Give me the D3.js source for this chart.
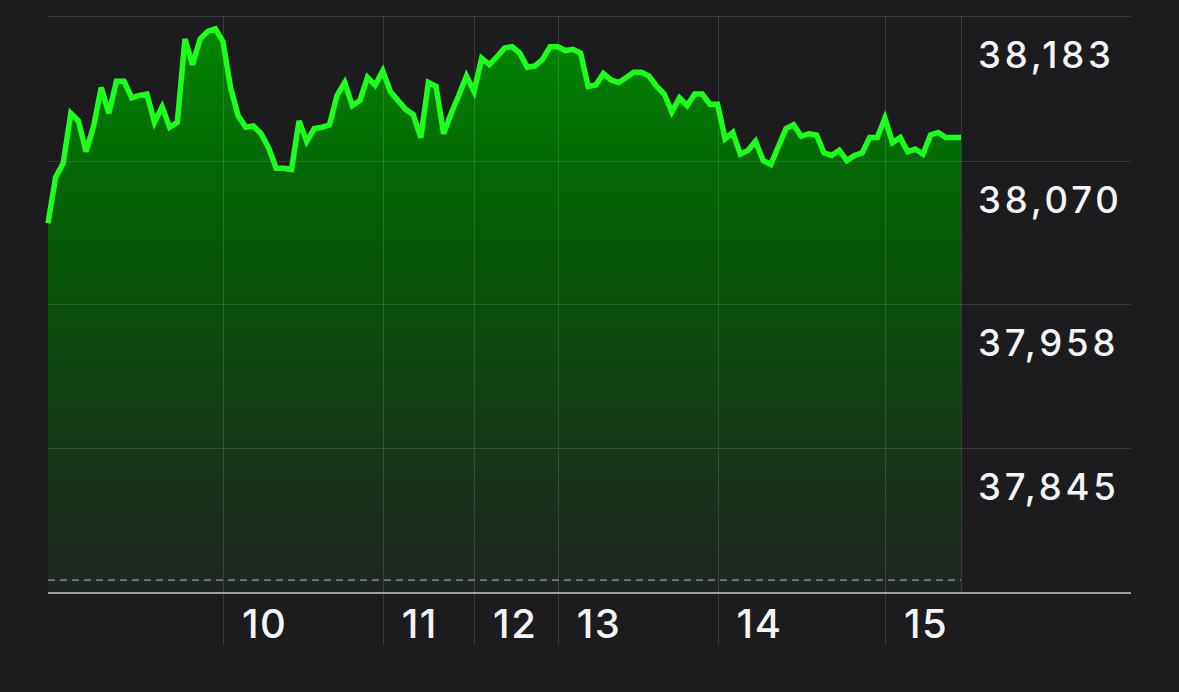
<!DOCTYPE html>
<html>
<head>
<meta charset="utf-8">
<script src="https://cdn.jsdelivr.net/npm/d3@7"></script>
<style>
  html, body { margin: 0; padding: 0; background: #1c1c1e; }
  svg { display: block; }
</style>
</head>
<body>
<div id="chart"></div>
<script>
// ---- data ----
const prices = [
  38021, 38057, 38068, 38107, 38101, 38077, 38097, 38127, 38107, 38132,
  38132, 38119, 38121, 38122, 38100, 38112, 38096, 38100, 38165, 38145,
  38165, 38171, 38173, 38163, 38127, 38105, 38096, 38097, 38091, 38080,
  38064, 38064, 38063, 38101, 38085, 38095, 38096, 38098, 38121, 38131,
  38113, 38117, 38135, 38129, 38140, 38124, 38117, 38110, 38106, 38088,
  38131, 38128, 38091, 38107, 38121, 38136, 38124, 38150, 38145, 38151,
  38158, 38159, 38154, 38143, 38144, 38149, 38159, 38159, 38156, 38157,
  38154, 38128, 38129, 38138, 38133, 38131, 38135, 38139, 38139, 38136,
  38128, 38122, 38108, 38119, 38113, 38122, 38122, 38114, 38114, 38087,
  38092, 38075, 38078, 38085, 38070, 38067, 38081, 38095, 38098, 38089,
  38091, 38090, 38076, 38074, 38078, 38070, 38074, 38076, 38088, 38088,
  38103, 38084, 38088, 38077, 38079, 38075, 38090, 38092, 38088, 38088,
  38088
];
const dayLabels = ["10", "11", "12", "13", "14", "15"];
const dayStartIndex = [23, 44, 56, 67, 88, 110];
const yTickValues = [38183, 38070, 37958, 37845];
const yTickLabels = ["38,183", "38,070", "37,958", "37,845"];
const previousClose = 37742;
const yMin = 37732;
const totalSlots = 120;

// ---- layout ----
const W = 1179, H = 692;
const mLeft = 48, plotRight = 961, gridRight = 1131;
const mTop = 16, mBottom = 593;

const svg = d3.select("#chart").append("svg")
  .attr("width", W).attr("height", H)
  .style("background", "#1c1c1e");

const x = d3.scaleLinear().domain([0, totalSlots]).range([mLeft, plotRight]);
const y = d3.scaleLinear().domain([yMin, yTickValues[0]]).range([mBottom, mTop]);

// gradient
const defs = svg.append("defs");
const grad = defs.append("linearGradient")
  .attr("id", "fillGrad")
  .attr("gradientUnits", "userSpaceOnUse")
  .attr("x1", 0).attr("x2", 0)
  .attr("y1", mTop).attr("y2", mBottom);
grad.append("stop").attr("offset", 0).attr("stop-color", "#008a00").attr("stop-opacity", 1);
grad.append("stop").attr("offset", 0.45).attr("stop-color", "#006600").attr("stop-opacity", 0.75);
grad.append("stop").attr("offset", 1).attr("stop-color", "#1f2a22").attr("stop-opacity", 0.6);

// area
const area = d3.area()
  .x((d, i) => x(i))
  .y0(mBottom)
  .y1(d => y(d));
svg.append("path")
  .datum(prices)
  .attr("d", area)
  .attr("fill", "url(#fillGrad)");

// horizontal grid lines
svg.append("g")
  .selectAll("line")
  .data(yTickValues)
  .join("line")
  .attr("x1", mLeft).attr("x2", gridRight)
  .attr("y1", d => Math.round(y(d)) + 0.5).attr("y2", d => Math.round(y(d)) + 0.5)
  .attr("stroke", "#ffffff").attr("stroke-opacity", 0.13).attr("stroke-width", 1);

// vertical day grid lines
svg.append("g")
  .selectAll("line")
  .data(dayStartIndex)
  .join("line")
  .attr("x1", d => Math.round(x(d)) + 0.5).attr("x2", d => Math.round(x(d)) + 0.5)
  .attr("y1", mTop).attr("y2", 645)
  .attr("stroke", "#ffffff").attr("stroke-opacity", 0.13).attr("stroke-width", 1);

// end-of-plot vertical line
svg.append("line")
  .attr("x1", x(totalSlots) + 0.5).attr("x2", x(totalSlots) + 0.5)
  .attr("y1", mTop).attr("y2", mBottom)
  .attr("stroke", "#ffffff").attr("stroke-opacity", 0.13).attr("stroke-width", 1);

// previous close dashed line
svg.append("line")
  .attr("x1", mLeft).attr("x2", plotRight)
  .attr("y1", y(previousClose)).attr("y2", y(previousClose))
  .attr("stroke", "#9a9a9e").attr("stroke-width", 1.3)
  .attr("stroke-dasharray", "7,5");

// bottom axis line
svg.append("line")
  .attr("x1", mLeft).attr("x2", gridRight)
  .attr("y1", mBottom).attr("y2", mBottom)
  .attr("stroke", "#a0a0a4").attr("stroke-width", 2);

// price line
const line = d3.line()
  .x((d, i) => x(i))
  .y(d => y(d));
svg.append("path")
  .datum(prices)
  .attr("d", line)
  .attr("fill", "none")
  .attr("stroke", "#1eff1e")
  .attr("stroke-width", 5.5)
  .attr("stroke-linejoin", "miter")
  .attr("stroke-miterlimit", 3);

// y labels
svg.append("g")
  .selectAll("text")
  .data(yTickValues)
  .join("text")
  .attr("x", 978)
  .attr("y", d => y(d) + 52)
  .text((d, i) => yTickLabels[i])
  .attr("fill", "#f4f4f6")
  .attr("font-family", "Inter, Roboto, 'Noto Sans', sans-serif")
  .attr("font-size", 36.5)
  .attr("font-weight", 500)
  .attr("letter-spacing", 3.8);

// x labels
svg.append("g")
  .selectAll("text")
  .data(dayStartIndex)
  .join("text")
  .attr("x", d => x(d) + 19)
  .attr("y", 638)
  .text((d, i) => dayLabels[i])
  .attr("fill", "#f4f4f6")
  .attr("font-family", "Inter, Roboto, 'Noto Sans', sans-serif")
  .attr("font-size", 40)
  .attr("font-weight", 500)
  .attr("letter-spacing", 1.5);
</script>
</body>
</html>
